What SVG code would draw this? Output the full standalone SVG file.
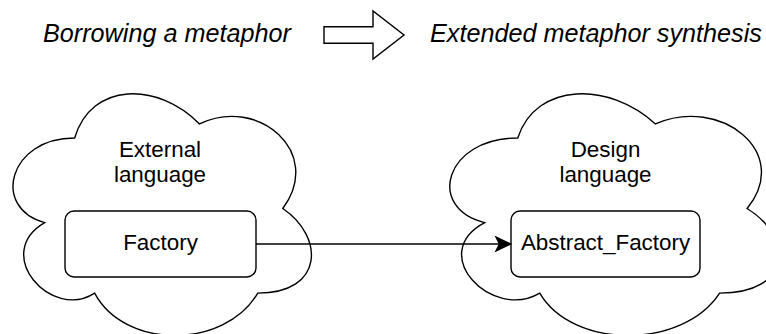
<svg xmlns="http://www.w3.org/2000/svg" width="766" height="334" viewBox="0 0 766 334">
<style>
.shape{fill:#ffffff;stroke:#000000;stroke-width:1.4}
.lbl{font-family:"Liberation Sans",Arial,sans-serif;font-size:22.4px;fill:#000000;text-anchor:middle}
.head{font-family:"Liberation Sans",Arial,sans-serif;font-size:25.2px;font-style:italic;fill:#000000}
</style>
<rect width="766" height="334" fill="#ffffff"/>
<g id="title-left"><text class="head" x="43" y="42">Borrowing a metaphor</text></g>
<g id="title-arrow"><path class="shape" d="M324,26.7 L373,26.7 L373,11 L404,35 L373,59 L373,43.3 L324,43.3 Z"/></g>
<g id="title-right"><text class="head" x="430" y="42">Extended metaphor synthesis</text></g>
<g id="external-language">
<path class="shape" d="M74.65,138 C8.05,138 -8.6,208.5 44.68,222.6 C-8.6,253.6 51.34,321.3 94.63,293.1 C124.6,349.5 224.5,349.5 257.8,293.1 C324.4,293.1 324.4,236.7 282.8,208.5 C324.4,152.1 257.8,95.7 199.5,123.9 C157.9,81.6 91.3,81.6 74.65,138 Z"/>
<text class="lbl" x="160" y="157">External</text>
<text class="lbl" x="160" y="182">language</text>
</g>
<g id="design-language">
<path class="shape" d="M517.75,138 C444.35,138 426,208.5 484.72,222.6 C426,253.6 492.06,321.3 539.77,293.1 C572.8,349.5 682.9,349.5 719.6,293.1 C793,293.1 793,236.7 747.1,208.5 C793,152.1 719.6,95.7 655.4,123.9 C609.5,81.6 536.1,81.6 517.75,138 Z"/>
<text class="lbl" x="605.5" y="157">Design</text>
<text class="lbl" x="605.5" y="182">language</text>
</g>
<g id="factory">
<rect class="shape" x="65" y="211" width="191" height="66" rx="9" ry="9"/>
<text class="lbl" x="160.5" y="249.5">Factory</text>
</g>
<g id="abstract-factory">
<rect class="shape" x="511" y="211" width="189" height="66" rx="9" ry="9"/>
<text class="lbl" x="605.5" y="249.5">Abstract_Factory</text>
</g>
<g id="connectors">
<path d="M256,244 L501,244" fill="none" stroke="#000000" stroke-width="1.4"/>
<path d="M510.5,244 L496,237 L499.5,244 L496,251 Z" fill="#000000" stroke="#000000" stroke-width="1.4" stroke-linejoin="miter"/>
</g>
</svg>
